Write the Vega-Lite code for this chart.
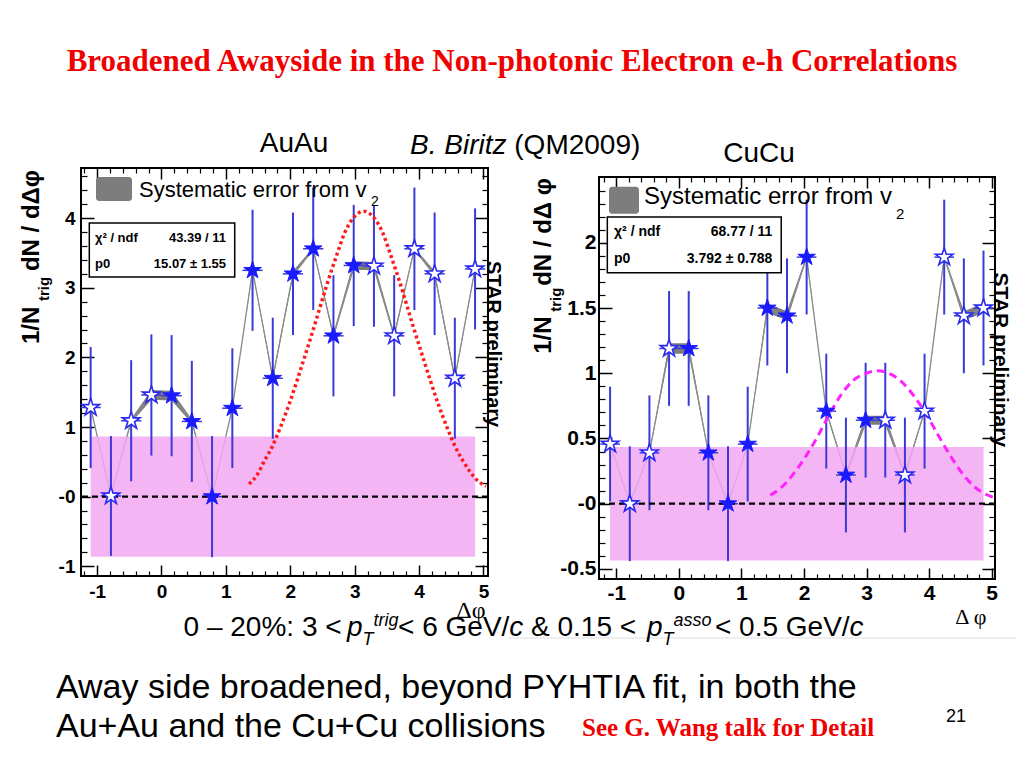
{
"$schema": "https://vega.github.io/schema/vega-lite/v6.json",
"background": "white",
"padding": {"left": 18, "top": 45, "right": 0, "bottom": 0},
"title": {"text": "Broadened Awayside in the Non-photonic Electron e-h Correlations", "font": "Liberation Serif", "fontSize": 31, "fontWeight": "bold", "color": "#f00000", "anchor": "middle", "offset": 54, "dx": -8, "dy": 3},
"config": {
  "font": "Liberation Sans",
  "view": {"stroke": "black", "strokeWidth": 2},
  "axis": {"grid": false, "domain": false, "labelColor": "black", "tickColor": "black", "labelFont": "Liberation Sans", "labelFontWeight": "bold", "titleFont": "Liberation Serif", "titleFontWeight": "normal", "titleColor": "black", "labelFlush": false, "labelOverlap": false, "labelBound": false},
  "text": {"font": "Liberation Sans", "color": "black"}
},
"datasets": {
  "one": [{"k": 1}],
  "au": [
    {"dphi": -1.100, "val": 1.28, "err": 0.87, "sys": 0.01, "xerr": 0.157, "kind": "reflected"},
    {"dphi": -0.785, "val": 0.01, "err": 0.86, "sys": 0.01, "xerr": 0.157, "kind": "reflected"},
    {"dphi": -0.471, "val": 1.09, "err": 0.87, "sys": 0.03, "xerr": 0.157, "kind": "reflected"},
    {"dphi": -0.157, "val": 1.46, "err": 0.87, "sys": 0.07, "xerr": 0.157, "kind": "reflected"},
    {"dphi": 0.157, "val": 1.45, "err": 0.87, "sys": 0.07, "xerr": 0.157, "kind": "measured"},
    {"dphi": 0.471, "val": 1.08, "err": 0.87, "sys": 0.03, "xerr": 0.157, "kind": "measured"},
    {"dphi": 0.785, "val": 0.00, "err": 0.87, "sys": 0.01, "xerr": 0.157, "kind": "measured"},
    {"dphi": 1.100, "val": 1.27, "err": 0.86, "sys": 0.01, "xerr": 0.157, "kind": "measured"},
    {"dphi": 1.414, "val": 3.25, "err": 0.87, "sys": 0.02, "xerr": 0.157, "kind": "measured"},
    {"dphi": 1.728, "val": 1.70, "err": 0.87, "sys": 0.04, "xerr": 0.157, "kind": "measured"},
    {"dphi": 2.042, "val": 3.20, "err": 0.88, "sys": 0.04, "xerr": 0.157, "kind": "measured"},
    {"dphi": 2.356, "val": 3.56, "err": 0.88, "sys": 0.02, "xerr": 0.157, "kind": "measured"},
    {"dphi": 2.670, "val": 2.31, "err": 0.87, "sys": 0.04, "xerr": 0.157, "kind": "measured"},
    {"dphi": 2.985, "val": 3.32, "err": 0.87, "sys": 0.06, "xerr": 0.157, "kind": "measured"},
    {"dphi": 3.299, "val": 3.31, "err": 0.87, "sys": 0.06, "xerr": 0.157, "kind": "reflected"},
    {"dphi": 3.613, "val": 2.31, "err": 0.87, "sys": 0.04, "xerr": 0.157, "kind": "reflected"},
    {"dphi": 3.927, "val": 3.56, "err": 0.88, "sys": 0.02, "xerr": 0.157, "kind": "reflected"},
    {"dphi": 4.241, "val": 3.20, "err": 0.88, "sys": 0.04, "xerr": 0.157, "kind": "reflected"},
    {"dphi": 4.555, "val": 1.70, "err": 0.87, "sys": 0.04, "xerr": 0.157, "kind": "reflected"},
    {"dphi": 4.869, "val": 3.27, "err": 0.87, "sys": 0.02, "xerr": 0.157, "kind": "reflected"}
  ],
  "cu": [
    {"dphi": -1.100, "val": 0.457, "err": 0.44, "sys": 0.005, "xerr": 0.157, "kind": "reflected"},
    {"dphi": -0.785, "val": 0.00, "err": 0.44, "sys": 0.005, "xerr": 0.157, "kind": "reflected"},
    {"dphi": -0.471, "val": 0.39, "err": 0.44, "sys": 0.01, "xerr": 0.157, "kind": "reflected"},
    {"dphi": -0.157, "val": 1.19, "err": 0.44, "sys": 0.04, "xerr": 0.157, "kind": "reflected"},
    {"dphi": 0.157, "val": 1.19, "err": 0.44, "sys": 0.04, "xerr": 0.157, "kind": "measured"},
    {"dphi": 0.471, "val": 0.39, "err": 0.44, "sys": 0.01, "xerr": 0.157, "kind": "measured"},
    {"dphi": 0.785, "val": 0.00, "err": 0.44, "sys": 0.005, "xerr": 0.157, "kind": "measured"},
    {"dphi": 1.100, "val": 0.457, "err": 0.44, "sys": 0.005, "xerr": 0.157, "kind": "measured"},
    {"dphi": 1.414, "val": 1.50, "err": 0.44, "sys": 0.035, "xerr": 0.157, "kind": "measured"},
    {"dphi": 1.728, "val": 1.44, "err": 0.44, "sys": 0.035, "xerr": 0.157, "kind": "measured"},
    {"dphi": 2.042, "val": 1.89, "err": 0.44, "sys": 0.015, "xerr": 0.157, "kind": "measured"},
    {"dphi": 2.356, "val": 0.71, "err": 0.44, "sys": 0.01, "xerr": 0.157, "kind": "measured"},
    {"dphi": 2.670, "val": 0.22, "err": 0.44, "sys": 0.02, "xerr": 0.157, "kind": "measured"},
    {"dphi": 2.985, "val": 0.64, "err": 0.44, "sys": 0.035, "xerr": 0.157, "kind": "measured"},
    {"dphi": 3.299, "val": 0.64, "err": 0.44, "sys": 0.035, "xerr": 0.157, "kind": "reflected"},
    {"dphi": 3.613, "val": 0.22, "err": 0.44, "sys": 0.02, "xerr": 0.157, "kind": "reflected"},
    {"dphi": 3.927, "val": 0.71, "err": 0.44, "sys": 0.01, "xerr": 0.157, "kind": "reflected"},
    {"dphi": 4.241, "val": 1.89, "err": 0.44, "sys": 0.015, "xerr": 0.157, "kind": "reflected"},
    {"dphi": 4.555, "val": 1.44, "err": 0.44, "sys": 0.035, "xerr": 0.157, "kind": "reflected"},
    {"dphi": 4.869, "val": 1.50, "err": 0.44, "sys": 0.035, "xerr": 0.157, "kind": "reflected"}
  ],
  "auFit": [
    {"dphi": 1.36, "fit": 0.18}, {"dphi": 1.49, "fit": 0.32}, {"dphi": 1.59, "fit": 0.5}, {"dphi": 1.72, "fit": 0.72},
    {"dphi": 1.84, "fit": 0.98}, {"dphi": 1.99, "fit": 1.35}, {"dphi": 2.21, "fit": 1.97}, {"dphi": 2.39, "fit": 2.5},
    {"dphi": 2.56, "fit": 3.02}, {"dphi": 2.74, "fit": 3.52}, {"dphi": 2.84, "fit": 3.78}, {"dphi": 2.96, "fit": 3.98},
    {"dphi": 3.14, "fit": 4.1}, {"dphi": 3.32, "fit": 3.98}, {"dphi": 3.44, "fit": 3.78}, {"dphi": 3.54, "fit": 3.52},
    {"dphi": 3.72, "fit": 3.02}, {"dphi": 3.89, "fit": 2.5}, {"dphi": 4.07, "fit": 1.97}, {"dphi": 4.29, "fit": 1.35},
    {"dphi": 4.44, "fit": 0.98}, {"dphi": 4.56, "fit": 0.72}, {"dphi": 4.69, "fit": 0.5}, {"dphi": 4.79, "fit": 0.36},
    {"dphi": 4.92, "fit": 0.22}, {"dphi": 5.04, "fit": 0.15}
  ],
  "cuFit": [
    {"dphi": 1.46, "fit": 0.065}, {"dphi": 1.65, "fit": 0.13}, {"dphi": 1.85, "fit": 0.24}, {"dphi": 2.05, "fit": 0.38},
    {"dphi": 2.2, "fit": 0.5}, {"dphi": 2.4, "fit": 0.68}, {"dphi": 2.6, "fit": 0.84}, {"dphi": 2.8, "fit": 0.95},
    {"dphi": 3.0, "fit": 1.0}, {"dphi": 3.17, "fit": 1.02}, {"dphi": 3.35, "fit": 1.0}, {"dphi": 3.55, "fit": 0.94},
    {"dphi": 3.75, "fit": 0.83}, {"dphi": 3.95, "fit": 0.69}, {"dphi": 4.15, "fit": 0.52}, {"dphi": 4.35, "fit": 0.36},
    {"dphi": 4.55, "fit": 0.22}, {"dphi": 4.75, "fit": 0.12}, {"dphi": 5.05, "fit": 0.045}
  ],
  "auBand": [{"x1": -1.1, "x2": 4.87, "lo": -0.865, "hi": 0.865}],
  "cuBand": [{"x1": -1.1, "x2": 4.87, "lo": -0.435, "hi": 0.435}]
},
"vconcat": [
 {
  "hconcat": [
   {
    "width": 407, "height": 408,
    "resolve": {"axis": {"x": "independent", "y": "independent"}},
    "layer": [
     {"data": {"name": "au"}, "mark": {"type": "errorband", "band": {"color": "#7d7d7d", "opacity": 1}, "borders": false},
      "encoding": {"x": {"field": "dphi", "type": "quantitative", "scale": {"domain": [-1.25, 5.07], "nice": false, "zero": false}, "axis": null},
                   "y": {"field": "val", "type": "quantitative", "scale": {"domain": [-1.14, 4.72], "nice": false, "zero": false}, "axis": null},
                   "yError": {"field": "sys"}}},
     {"data": {"name": "au"}, "mark": {"type": "line", "color": "#8c8c8c", "strokeWidth": 1.3},
      "encoding": {"x": {"field": "dphi", "type": "quantitative", "scale": {"domain": [-1.25, 5.07], "nice": false, "zero": false},
                         "axis": {"orient": "bottom", "ticks": false, "values": [-1, 0, 1, 2, 3, 4, 5], "labelPadding": 6, "labelFontSize": 19, "labelExpr": "replace(datum.label, '\u2212', '-')", "title": "Δφ", "titleX": 404, "titleY": 34, "titleAlign": "right", "titleBaseline": "middle", "titleFontSize": 24, "titleAngle": 0}},
                   "y": {"field": "val", "type": "quantitative", "scale": {"domain": [-1.14, 4.72], "nice": false, "zero": false},
                         "axis": {"orient": "left", "ticks": false, "values": [-1, 0, 1, 2, 3, 4], "labelPadding": 6, "labelFontSize": 19, "format": "~g", "labelExpr": "datum.value == 0 ? '-0' : replace(datum.label, '\u2212', '-')", "title": null}}}},
     {"data": {"name": "auBand"}, "mark": {"type": "rect", "color": "#f2a8f2", "opacity": 0.85},
      "encoding": {"x": {"field": "x1", "type": "quantitative", "scale": {"domain": [-1.25, 5.07], "nice": false, "zero": false},
                         "axis": {"orient": "bottom", "labels": false, "values": [-1, 0, 1, 2, 3, 4, 5], "tickSize": -11, "tickWidth": 1.5, "title": null}},
                   "x2": {"field": "x2"},
                   "y": {"field": "lo", "type": "quantitative", "scale": {"domain": [-1.14, 4.72], "nice": false, "zero": false},
                         "axis": {"orient": "left", "labels": false, "values": [-1, 0, 1, 2, 3, 4], "tickSize": -13, "tickWidth": 1.5, "title": null}},
                   "y2": {"field": "hi"}}},
     {"data": {"name": "au"}, "mark": {"type": "errorbar", "color": "#3a3ad8", "thickness": 2},
      "encoding": {"x": {"field": "dphi", "type": "quantitative", "scale": {"domain": [-1.25, 5.07], "nice": false, "zero": false}, "axis": null},
                   "y": {"field": "val", "type": "quantitative", "scale": {"domain": [-1.14, 4.72], "nice": false, "zero": false}, "axis": null},
                   "yError": {"field": "err"}}},
     {"data": {"name": "au"}, "mark": {"type": "errorbar", "color": "#3a3ad8", "thickness": 1.5},
      "encoding": {"x": {"field": "dphi", "type": "quantitative", "scale": {"domain": [-1.25, 5.07], "nice": false, "zero": false}, "axis": null},
                   "xError": {"field": "xerr"},
                   "y": {"field": "val", "type": "quantitative", "scale": {"domain": [-1.14, 4.72], "nice": false, "zero": false}, "axis": null}}},
     {"data": {"name": "one"}, "mark": {"type": "rule", "color": "black", "strokeWidth": 2.2, "strokeDash": [6, 4]},
      "encoding": {"y": {"datum": 0, "type": "quantitative", "scale": {"domain": [-1.14, 4.72], "nice": false, "zero": false}, "axis": null}}},
     {"data": {"name": "auFit"}, "mark": {"type": "line", "color": "#ff1a1a", "strokeWidth": 3.5, "strokeDash": [3, 3], "interpolate": "monotone"},
      "encoding": {"x": {"field": "dphi", "type": "quantitative", "scale": {"domain": [-1.25, 5.07], "nice": false, "zero": false},
                         "axis": {"orient": "bottom", "labels": false, "values": [-1.2, -0.8, -0.6, -0.4, -0.2, 0.2, 0.4, 0.6, 0.8, 1.2, 1.4, 1.6, 1.8, 2.2, 2.4, 2.6, 2.8, 3.2, 3.4, 3.6, 3.8, 4.2, 4.4, 4.6, 4.8], "tickSize": -5, "tickWidth": 1.2, "title": null}},
                   "y": {"field": "fit", "type": "quantitative", "scale": {"domain": [-1.14, 4.72], "nice": false, "zero": false},
                         "axis": {"orient": "left", "labels": false, "values": [-0.8, -0.6, -0.4, -0.2, 0.2, 0.4, 0.6, 0.8, 1.2, 1.4, 1.6, 1.8, 2.2, 2.4, 2.6, 2.8, 3.2, 3.4, 3.6, 3.8, 4.2, 4.4, 4.6], "tickSize": -6, "tickWidth": 1.2, "title": null}}}},
     {"data": {"name": "au"}, "transform": [{"filter": "datum.kind == 'measured'"}],
      "mark": {"type": "point", "shape": "M0,-1L0.2245,-0.309L0.951,-0.309L0.3633,0.118L0.5878,0.809L0,0.382L-0.5878,0.809L-0.3633,0.118L-0.951,-0.309L-0.2245,-0.309Z", "filled": true, "fill": "#1a1aff", "stroke": "#1a1aff", "strokeWidth": 1, "size": 340, "opacity": 1},
      "encoding": {"x": {"field": "dphi", "type": "quantitative", "scale": {"domain": [-1.25, 5.07], "nice": false, "zero": false},
                         "axis": {"orient": "top", "labels": false, "values": [-1, 0, 1, 2, 3, 4, 5], "tickSize": -11, "tickWidth": 1.5, "title": null}},
                   "y": {"field": "val", "type": "quantitative", "scale": {"domain": [-1.14, 4.72], "nice": false, "zero": false},
                         "axis": {"orient": "right", "labels": false, "values": [-1, 0, 1, 2, 3, 4], "tickSize": -13, "tickWidth": 1.5, "title": null}}}},
     {"data": {"name": "au"}, "transform": [{"filter": "datum.kind == 'reflected'"}],
      "mark": {"type": "point", "shape": "M0,-1L0.2245,-0.309L0.951,-0.309L0.3633,0.118L0.5878,0.809L0,0.382L-0.5878,0.809L-0.3633,0.118L-0.951,-0.309L-0.2245,-0.309Z", "filled": true, "fill": "white", "stroke": "#2a2af0", "strokeWidth": 1.6, "size": 340, "opacity": 1},
      "encoding": {"x": {"field": "dphi", "type": "quantitative", "scale": {"domain": [-1.25, 5.07], "nice": false, "zero": false},
                         "axis": {"orient": "top", "labels": false, "values": [-1.2, -0.8, -0.6, -0.4, -0.2, 0.2, 0.4, 0.6, 0.8, 1.2, 1.4, 1.6, 1.8, 2.2, 2.4, 2.6, 2.8, 3.2, 3.4, 3.6, 3.8, 4.2, 4.4, 4.6, 4.8], "tickSize": -5, "tickWidth": 1.2, "title": null}},
                   "y": {"field": "val", "type": "quantitative", "scale": {"domain": [-1.14, 4.72], "nice": false, "zero": false},
                         "axis": {"orient": "right", "labels": false, "values": [-0.8, -0.6, -0.4, -0.2, 0.2, 0.4, 0.6, 0.8, 1.2, 1.4, 1.6, 1.8, 2.2, 2.4, 2.6, 2.8, 3.2, 3.4, 3.6, 3.8, 4.2, 4.4, 4.6], "tickSize": -6, "tickWidth": 1.2, "title": null}}}},
     {"data": {"name": "one"}, "mark": {"type": "rect", "color": "#7d7d7d", "cornerRadius": 3},
      "encoding": {"x": {"datum": -1.017, "type": "quantitative", "scale": {"domain": [-1.25, 5.07], "nice": false, "zero": false}, "axis": null}, "x2": {"datum": -0.458},
                   "y": {"datum": 4.246, "type": "quantitative", "scale": {"domain": [-1.14, 4.72], "nice": false, "zero": false}, "axis": null}, "y2": {"datum": 4.591}}},
     {"data": {"name": "one"}, "mark": {"type": "text", "text": "Systematic error from v", "fontSize": 22, "align": "left", "baseline": "alphabetic"},
      "encoding": {"x": {"datum": -0.349, "type": "quantitative", "scale": {"domain": [-1.25, 5.07], "nice": false, "zero": false}, "axis": null},
                   "y": {"datum": 4.303, "type": "quantitative", "scale": {"domain": [-1.14, 4.72], "nice": false, "zero": false}, "axis": null}}},
     {"data": {"name": "one"}, "mark": {"type": "text", "text": "2", "fontSize": 14, "align": "left", "baseline": "alphabetic"},
      "encoding": {"x": {"datum": 3.253, "type": "quantitative", "scale": {"domain": [-1.25, 5.07], "nice": false, "zero": false}, "axis": null},
                   "y": {"datum": 4.174, "type": "quantitative", "scale": {"domain": [-1.14, 4.72], "nice": false, "zero": false}, "axis": null}}},
     {"data": {"name": "one"}, "mark": {"type": "rect", "fill": "white", "stroke": "black", "strokeWidth": 1.5},
      "encoding": {"x": {"datum": -1.121, "type": "quantitative", "scale": {"domain": [-1.25, 5.07], "nice": false, "zero": false}, "axis": null}, "x2": {"datum": 1.137},
                   "y": {"datum": 3.154, "type": "quantitative", "scale": {"domain": [-1.14, 4.72], "nice": false, "zero": false}, "axis": null}, "y2": {"datum": 3.93}}},
     {"data": {"name": "one"}, "mark": {"type": "text", "text": "χ² / ndf", "fontSize": 13, "fontWeight": "bold", "align": "left", "baseline": "middle"},
      "encoding": {"x": {"datum": -1.033, "type": "quantitative", "scale": {"domain": [-1.25, 5.07], "nice": false, "zero": false}, "axis": null},
                   "y": {"datum": 3.714, "type": "quantitative", "scale": {"domain": [-1.14, 4.72], "nice": false, "zero": false}, "axis": null}}},
     {"data": {"name": "one"}, "mark": {"type": "text", "text": "43.39 / 11", "fontSize": 13, "fontWeight": "bold", "align": "right", "baseline": "middle"},
      "encoding": {"x": {"datum": 1.002, "type": "quantitative", "scale": {"domain": [-1.25, 5.07], "nice": false, "zero": false}, "axis": null},
                   "y": {"datum": 3.714, "type": "quantitative", "scale": {"domain": [-1.14, 4.72], "nice": false, "zero": false}, "axis": null}}},
     {"data": {"name": "one"}, "mark": {"type": "text", "text": "p0", "fontSize": 13, "fontWeight": "bold", "align": "left", "baseline": "middle"},
      "encoding": {"x": {"datum": -1.033, "type": "quantitative", "scale": {"domain": [-1.25, 5.07], "nice": false, "zero": false}, "axis": null},
                   "y": {"datum": 3.341, "type": "quantitative", "scale": {"domain": [-1.14, 4.72], "nice": false, "zero": false}, "axis": null}}},
     {"data": {"name": "one"}, "mark": {"type": "text", "text": "15.07 ± 1.55", "fontSize": 13, "fontWeight": "bold", "align": "right", "baseline": "middle"},
      "encoding": {"x": {"datum": 1.002, "type": "quantitative", "scale": {"domain": [-1.25, 5.07], "nice": false, "zero": false}, "axis": null},
                   "y": {"datum": 3.341, "type": "quantitative", "scale": {"domain": [-1.14, 4.72], "nice": false, "zero": false}, "axis": null}}},
     {"data": {"name": "one"}, "mark": {"type": "text", "text": "STAR preliminary", "fontSize": 20, "fontWeight": "bold", "angle": 90, "align": "center", "baseline": "middle"},
      "encoding": {"x": {"datum": 5.147, "type": "quantitative", "scale": {"domain": [-1.25, 5.07], "nice": false, "zero": false}, "axis": null},
                   "y": {"datum": 2.191, "type": "quantitative", "scale": {"domain": [-1.14, 4.72], "nice": false, "zero": false}, "axis": null}}},
     {"data": {"name": "one"}, "mark": {"type": "text", "text": "1/N", "fontSize": 24, "fontWeight": "bold", "angle": 270, "align": "left", "baseline": "middle"},
      "encoding": {"x": {"datum": -2.011, "type": "quantitative", "scale": {"domain": [-1.25, 5.07], "nice": false, "zero": false}, "axis": null},
                   "y": {"datum": 2.191, "type": "quantitative", "scale": {"domain": [-1.14, 4.72], "nice": false, "zero": false}, "axis": null}}},
     {"data": {"name": "one"}, "mark": {"type": "text", "text": "trig", "fontSize": 15, "fontWeight": "bold", "angle": 270, "align": "left", "baseline": "middle"},
      "encoding": {"x": {"datum": -1.817, "type": "quantitative", "scale": {"domain": [-1.25, 5.07], "nice": false, "zero": false}, "axis": null},
                   "y": {"datum": 2.809, "type": "quantitative", "scale": {"domain": [-1.14, 4.72], "nice": false, "zero": false}, "axis": null}}},
     {"data": {"name": "one"}, "mark": {"type": "text", "text": "dN / dΔφ", "fontSize": 24, "fontWeight": "bold", "angle": 270, "align": "left", "baseline": "middle"},
      "encoding": {"x": {"datum": -2.011, "type": "quantitative", "scale": {"domain": [-1.25, 5.07], "nice": false, "zero": false}, "axis": null},
                   "y": {"datum": 3.24, "type": "quantitative", "scale": {"domain": [-1.14, 4.72], "nice": false, "zero": false}, "axis": null}}},
     {"data": {"name": "one"}, "mark": {"type": "text", "text": "AuAu", "fontSize": 28, "align": "center", "baseline": "middle"},
      "encoding": {"x": {"datum": 2.057, "type": "quantitative", "scale": {"domain": [-1.25, 5.07], "nice": false, "zero": false}, "axis": null},
                   "y": {"datum": 5.065, "type": "quantitative", "scale": {"domain": [-1.14, 4.72], "nice": false, "zero": false}, "axis": null}}},
     {"data": {"name": "one"}, "mark": {"type": "text", "text": "0 – 20%: 3 <", "fontSize": 28, "fontWeight": "normal", "align": "left", "baseline": "alphabetic"},
      "encoding": {"x": {"datum": 0.343, "type": "quantitative", "scale": {"domain": [-1.25, 5.07], "nice": false, "zero": false}, "axis": null},
                   "y": {"datum": -2.002, "type": "quantitative", "scale": {"domain": [-1.14, 4.72], "nice": false, "zero": false}, "axis": null}}},
     {"data": {"name": "one"}, "mark": {"type": "text", "text": "p", "fontSize": 28, "fontStyle": "italic", "align": "left", "baseline": "alphabetic"},
      "encoding": {"x": {"datum": 2.88, "type": "quantitative", "scale": {"domain": [-1.25, 5.07], "nice": false, "zero": false}, "axis": null},
                   "y": {"datum": -2.002, "type": "quantitative", "scale": {"domain": [-1.14, 4.72], "nice": false, "zero": false}, "axis": null}}},
     {"data": {"name": "one"}, "mark": {"type": "text", "text": "T", "fontSize": 18, "fontStyle": "italic", "align": "left", "baseline": "alphabetic"},
      "encoding": {"x": {"datum": 3.121, "type": "quantitative", "scale": {"domain": [-1.25, 5.07], "nice": false, "zero": false}, "axis": null},
                   "y": {"datum": -2.131, "type": "quantitative", "scale": {"domain": [-1.14, 4.72], "nice": false, "zero": false}, "axis": null}}},
     {"data": {"name": "one"}, "mark": {"type": "text", "text": "trig", "fontSize": 18, "fontStyle": "italic", "align": "left", "baseline": "alphabetic"},
      "encoding": {"x": {"datum": 3.292, "type": "quantitative", "scale": {"domain": [-1.25, 5.07], "nice": false, "zero": false}, "axis": null},
                   "y": {"datum": -1.859, "type": "quantitative", "scale": {"domain": [-1.14, 4.72], "nice": false, "zero": false}, "axis": null}}}
    ]
   },
   {
    "width": 396, "height": 411,
    "view": {"stroke": null},
    "resolve": {"axis": {"x": "independent", "y": "independent"}},
    "layer": [
     {"data": {"name": "cu"}, "mark": {"type": "errorband", "band": {"color": "#7d7d7d", "opacity": 1}, "borders": false},
      "encoding": {"x": {"field": "dphi", "type": "quantitative", "scale": {"domain": [-1.277, 5.053], "nice": false, "zero": false}, "axis": null},
                   "y": {"field": "val", "type": "quantitative", "scale": {"domain": [-0.577, 2.573], "nice": false, "zero": false}, "axis": null},
                   "yError": {"field": "sys"}}},
     {"data": {"name": "cu"}, "mark": {"type": "line", "color": "#8c8c8c", "strokeWidth": 1.3},
      "encoding": {"x": {"field": "dphi", "type": "quantitative", "scale": {"domain": [-1.277, 5.053], "nice": false, "zero": false},
                         "axis": {"orient": "bottom", "ticks": false, "values": [-1, 0, 1, 2, 3, 4, 5], "labelPadding": 3, "labelFontSize": 21, "labelExpr": "replace(datum.label, '\u2212', '-')", "title": "Δ φ", "titleX": 387, "titleY": 37, "titleAlign": "right", "titleBaseline": "middle", "titleFontSize": 22, "titleAngle": 0}},
                   "y": {"field": "val", "type": "quantitative", "scale": {"domain": [-0.577, 2.573], "nice": false, "zero": false},
                         "axis": {"orient": "left", "ticks": false, "values": [-0.5, 0, 0.5, 1, 1.5, 2], "labelPadding": 3, "labelFontSize": 21, "format": "~g", "labelExpr": "datum.value == 0 ? '-0' : replace(datum.label, '\u2212', '-')", "title": null}}}},
     {"data": {"name": "cuBand"}, "mark": {"type": "rect", "color": "#f2a8f2", "opacity": 0.85},
      "encoding": {"x": {"field": "x1", "type": "quantitative", "scale": {"domain": [-1.277, 5.053], "nice": false, "zero": false},
                         "axis": {"orient": "bottom", "labels": false, "values": [-1, 0, 1, 2, 3, 4, 5], "tickSize": -11, "tickWidth": 1.5, "title": null}},
                   "x2": {"field": "x2"},
                   "y": {"field": "lo", "type": "quantitative", "scale": {"domain": [-0.577, 2.573], "nice": false, "zero": false},
                         "axis": {"orient": "left", "labels": false, "values": [-0.5, 0, 0.5, 1, 1.5, 2], "tickSize": -13, "tickWidth": 1.5, "title": null}},
                   "y2": {"field": "hi"}}},
     {"data": {"name": "cu"}, "mark": {"type": "errorbar", "color": "#3a3ad8", "thickness": 2},
      "encoding": {"x": {"field": "dphi", "type": "quantitative", "scale": {"domain": [-1.277, 5.053], "nice": false, "zero": false}, "axis": null},
                   "y": {"field": "val", "type": "quantitative", "scale": {"domain": [-0.577, 2.573], "nice": false, "zero": false}, "axis": null},
                   "yError": {"field": "err"}}},
     {"data": {"name": "cu"}, "mark": {"type": "errorbar", "color": "#3a3ad8", "thickness": 1.5},
      "encoding": {"x": {"field": "dphi", "type": "quantitative", "scale": {"domain": [-1.277, 5.053], "nice": false, "zero": false}, "axis": null},
                   "xError": {"field": "xerr"},
                   "y": {"field": "val", "type": "quantitative", "scale": {"domain": [-0.577, 2.573], "nice": false, "zero": false}, "axis": null}}},
     {"data": {"name": "one"}, "mark": {"type": "rule", "color": "black", "strokeWidth": 2.2, "strokeDash": [6, 4]},
      "encoding": {"y": {"datum": 0, "type": "quantitative", "scale": {"domain": [-0.577, 2.573], "nice": false, "zero": false}, "axis": null}}},
     {"data": {"name": "cuFit"}, "mark": {"type": "line", "color": "#ff22ff", "strokeWidth": 3, "strokeDash": [8, 5], "interpolate": "monotone"},
      "encoding": {"x": {"field": "dphi", "type": "quantitative", "scale": {"domain": [-1.277, 5.053], "nice": false, "zero": false},
                         "axis": {"orient": "bottom", "labels": false, "values": [-1.2, -0.8, -0.6, -0.4, -0.2, 0.2, 0.4, 0.6, 0.8, 1.2, 1.4, 1.6, 1.8, 2.2, 2.4, 2.6, 2.8, 3.2, 3.4, 3.6, 3.8, 4.2, 4.4, 4.6, 4.8], "tickSize": -5, "tickWidth": 1.2, "title": null}},
                   "y": {"field": "fit", "type": "quantitative", "scale": {"domain": [-0.577, 2.573], "nice": false, "zero": false},
                         "axis": {"orient": "left", "labels": false, "values": [-0.4, -0.3, -0.2, -0.1, 0.1, 0.2, 0.3, 0.4, 0.6, 0.7, 0.8, 0.9, 1.1, 1.2, 1.3, 1.4, 1.6, 1.7, 1.8, 1.9, 2.1, 2.2, 2.3, 2.4], "tickSize": -6, "tickWidth": 1.2, "title": null}}}},
     {"data": {"name": "cu"}, "transform": [{"filter": "datum.kind == 'measured'"}],
      "mark": {"type": "point", "shape": "M0,-1L0.2245,-0.309L0.951,-0.309L0.3633,0.118L0.5878,0.809L0,0.382L-0.5878,0.809L-0.3633,0.118L-0.951,-0.309L-0.2245,-0.309Z", "filled": true, "fill": "#1a1aff", "stroke": "#1a1aff", "strokeWidth": 1, "size": 340, "opacity": 1},
      "encoding": {"x": {"field": "dphi", "type": "quantitative", "scale": {"domain": [-1.277, 5.053], "nice": false, "zero": false},
                         "axis": {"orient": "top", "offset": -9, "labels": false, "values": [-1, 0, 1, 2, 3, 4, 5], "tickSize": -11, "tickWidth": 1.5, "title": null}},
                   "y": {"field": "val", "type": "quantitative", "scale": {"domain": [-0.577, 2.573], "nice": false, "zero": false},
                         "axis": {"orient": "right", "labels": false, "values": [-0.5, 0, 0.5, 1, 1.5, 2], "tickSize": -13, "tickWidth": 1.5, "title": null}}}},
     {"data": {"name": "cu"}, "transform": [{"filter": "datum.kind == 'reflected'"}],
      "mark": {"type": "point", "shape": "M0,-1L0.2245,-0.309L0.951,-0.309L0.3633,0.118L0.5878,0.809L0,0.382L-0.5878,0.809L-0.3633,0.118L-0.951,-0.309L-0.2245,-0.309Z", "filled": true, "fill": "white", "stroke": "#2a2af0", "strokeWidth": 1.6, "size": 340, "opacity": 1},
      "encoding": {"x": {"field": "dphi", "type": "quantitative", "scale": {"domain": [-1.277, 5.053], "nice": false, "zero": false},
                         "axis": {"orient": "top", "offset": -9, "labels": false, "values": [-1.2, -0.8, -0.6, -0.4, -0.2, 0.2, 0.4, 0.6, 0.8, 1.2, 1.4, 1.6, 1.8, 2.2, 2.4, 2.6, 2.8, 3.2, 3.4, 3.6, 3.8, 4.2, 4.4, 4.6, 4.8], "tickSize": -5, "tickWidth": 1.2, "title": null}},
                   "y": {"field": "val", "type": "quantitative", "scale": {"domain": [-0.577, 2.573], "nice": false, "zero": false},
                         "axis": {"orient": "right", "labels": false, "values": [-0.4, -0.3, -0.2, -0.1, 0.1, 0.2, 0.3, 0.4, 0.6, 0.7, 0.8, 0.9, 1.1, 1.2, 1.3, 1.4, 1.6, 1.7, 1.8, 1.9, 2.1, 2.2, 2.3, 2.4], "tickSize": -6, "tickWidth": 1.2, "title": null}}}},
     {"data": {"name": "one"}, "mark": {"type": "rect", "color": "#7d7d7d", "cornerRadius": 3},
      "encoding": {"x": {"datum": -1.117, "type": "quantitative", "scale": {"domain": [-1.277, 5.053], "nice": false, "zero": false}, "axis": null}, "x2": {"datum": -0.638},
                   "y": {"datum": 2.223, "type": "quantitative", "scale": {"domain": [-0.577, 2.573], "nice": false, "zero": false}, "axis": null}, "y2": {"datum": 2.43}}},
     {"data": {"name": "one"}, "mark": {"type": "text", "text": "Systematic error from v", "fontSize": 24, "align": "left", "baseline": "alphabetic"},
      "encoding": {"x": {"datum": -0.558, "type": "quantitative", "scale": {"domain": [-1.277, 5.053], "nice": false, "zero": false}, "axis": null},
                   "y": {"datum": 2.299, "type": "quantitative", "scale": {"domain": [-0.577, 2.573], "nice": false, "zero": false}, "axis": null}}},
     {"data": {"name": "one"}, "mark": {"type": "text", "text": "2", "fontSize": 15, "align": "left", "baseline": "alphabetic"},
      "encoding": {"x": {"datum": 3.47, "type": "quantitative", "scale": {"domain": [-1.277, 5.053], "nice": false, "zero": false}, "axis": null},
                   "y": {"datum": 2.184, "type": "quantitative", "scale": {"domain": [-0.577, 2.573], "nice": false, "zero": false}, "axis": null}}},
     {"data": {"name": "one"}, "mark": {"type": "rect", "fill": "white", "stroke": "black", "strokeWidth": 1.5},
      "encoding": {"x": {"datum": -1.144, "type": "quantitative", "scale": {"domain": [-1.277, 5.053], "nice": false, "zero": false}, "axis": null}, "x2": {"datum": 1.636},
                   "y": {"datum": 1.77, "type": "quantitative", "scale": {"domain": [-0.577, 2.573], "nice": false, "zero": false}, "axis": null}, "y2": {"datum": 2.197}}},
     {"data": {"name": "one"}, "mark": {"type": "text", "text": "χ² / ndf", "fontSize": 14, "fontWeight": "bold", "align": "left", "baseline": "middle"},
      "encoding": {"x": {"datum": -1.037, "type": "quantitative", "scale": {"domain": [-1.277, 5.053], "nice": false, "zero": false}, "axis": null},
                   "y": {"datum": 2.082, "type": "quantitative", "scale": {"domain": [-0.577, 2.573], "nice": false, "zero": false}, "axis": null}}},
     {"data": {"name": "one"}, "mark": {"type": "text", "text": "68.77 / 11", "fontSize": 14, "fontWeight": "bold", "align": "right", "baseline": "middle"},
      "encoding": {"x": {"datum": 1.493, "type": "quantitative", "scale": {"domain": [-1.277, 5.053], "nice": false, "zero": false}, "axis": null},
                   "y": {"datum": 2.082, "type": "quantitative", "scale": {"domain": [-0.577, 2.573], "nice": false, "zero": false}, "axis": null}}},
     {"data": {"name": "one"}, "mark": {"type": "text", "text": "p0", "fontSize": 14, "fontWeight": "bold", "align": "left", "baseline": "middle"},
      "encoding": {"x": {"datum": -1.037, "type": "quantitative", "scale": {"domain": [-1.277, 5.053], "nice": false, "zero": false}, "axis": null},
                   "y": {"datum": 1.872, "type": "quantitative", "scale": {"domain": [-0.577, 2.573], "nice": false, "zero": false}, "axis": null}}},
     {"data": {"name": "one"}, "mark": {"type": "text", "text": "3.792 ± 0.788", "fontSize": 14, "fontWeight": "bold", "align": "right", "baseline": "middle"},
      "encoding": {"x": {"datum": 1.493, "type": "quantitative", "scale": {"domain": [-1.277, 5.053], "nice": false, "zero": false}, "axis": null},
                   "y": {"datum": 1.872, "type": "quantitative", "scale": {"domain": [-0.577, 2.573], "nice": false, "zero": false}, "axis": null}}},
     {"data": {"name": "one"}, "mark": {"type": "text", "text": "STAR preliminary", "fontSize": 21, "fontWeight": "bold", "angle": 90, "align": "center", "baseline": "middle"},
      "encoding": {"x": {"datum": 5.132, "type": "quantitative", "scale": {"domain": [-1.277, 5.053], "nice": false, "zero": false}, "axis": null},
                   "y": {"datum": 1.103, "type": "quantitative", "scale": {"domain": [-0.577, 2.573], "nice": false, "zero": false}, "axis": null}}},
     {"data": {"name": "one"}, "mark": {"type": "text", "text": "1/N", "fontSize": 24, "fontWeight": "bold", "angle": 270, "align": "left", "baseline": "middle"},
      "encoding": {"x": {"datum": -2.156, "type": "quantitative", "scale": {"domain": [-1.277, 5.053], "nice": false, "zero": false}, "axis": null},
                   "y": {"datum": 1.149, "type": "quantitative", "scale": {"domain": [-0.577, 2.573], "nice": false, "zero": false}, "axis": null}}},
     {"data": {"name": "one"}, "mark": {"type": "text", "text": "trig", "fontSize": 15, "fontWeight": "bold", "angle": 270, "align": "left", "baseline": "middle"},
      "encoding": {"x": {"datum": -1.964, "type": "quantitative", "scale": {"domain": [-1.277, 5.053], "nice": false, "zero": false}, "axis": null},
                   "y": {"datum": 1.471, "type": "quantitative", "scale": {"domain": [-0.577, 2.573], "nice": false, "zero": false}, "axis": null}}},
     {"data": {"name": "one"}, "mark": {"type": "text", "text": "dN / dΔ φ", "fontSize": 24, "fontWeight": "bold", "angle": 270, "align": "left", "baseline": "middle"},
      "encoding": {"x": {"datum": -2.156, "type": "quantitative", "scale": {"domain": [-1.277, 5.053], "nice": false, "zero": false}, "axis": null},
                   "y": {"datum": 1.67, "type": "quantitative", "scale": {"domain": [-0.577, 2.573], "nice": false, "zero": false}, "axis": null}}},
     {"data": {"name": "one"}, "mark": {"type": "text", "text": "CuCu", "fontSize": 28, "align": "center", "baseline": "middle"},
      "encoding": {"x": {"datum": 1.28, "type": "quantitative", "scale": {"domain": [-1.277, 5.053], "nice": false, "zero": false}, "axis": null},
                   "y": {"datum": 2.68, "type": "quantitative", "scale": {"domain": [-0.577, 2.573], "nice": false, "zero": false}, "axis": null}}},
     {"data": {"name": "one"}, "mark": {"type": "text", "text": "B. Biritz", "fontSize": 28, "fontStyle": "italic", "align": "left", "baseline": "middle"},
      "encoding": {"x": {"datum": -4.298, "type": "quantitative", "scale": {"domain": [-1.277, 5.053], "nice": false, "zero": false}, "axis": null},
                   "y": {"datum": 2.745, "type": "quantitative", "scale": {"domain": [-0.577, 2.573], "nice": false, "zero": false}, "axis": null}}},
     {"data": {"name": "one"}, "mark": {"type": "text", "text": "(QM2009)", "fontSize": 28, "align": "left", "baseline": "middle"},
      "encoding": {"x": {"datum": -2.631, "type": "quantitative", "scale": {"domain": [-1.277, 5.053], "nice": false, "zero": false}, "axis": null},
                   "y": {"datum": 2.745, "type": "quantitative", "scale": {"domain": [-0.577, 2.573], "nice": false, "zero": false}, "axis": null}}},
     {"data": {"name": "one"}, "mark": {"type": "rect", "filled": false, "stroke": "black", "strokeWidth": 2},
      "encoding": {"x": {"datum": -1.277, "type": "quantitative", "scale": {"domain": [-1.277, 5.053], "nice": false, "zero": false}, "axis": null}, "x2": {"datum": 5.053},
                   "y": {"datum": -0.577, "type": "quantitative", "scale": {"domain": [-0.577, 2.573], "nice": false, "zero": false}, "axis": null}, "y2": {"datum": 2.504}}},
     {"data": {"name": "one"}, "mark": {"type": "rule", "color": "#dddddd", "strokeWidth": 1},
      "encoding": {"x": {"datum": -2.715, "type": "quantitative", "scale": {"domain": [-1.277, 5.053], "nice": false, "zero": false}, "axis": null}, "x2": {"datum": 5.4},
                   "y": {"datum": -1.029, "type": "quantitative", "scale": {"domain": [-0.577, 2.573], "nice": false, "zero": false}, "axis": null}}},
     {"data": {"name": "one"}, "mark": {"type": "text", "text": "< 6 GeV/", "fontSize": 28, "align": "left", "baseline": "alphabetic"},
      "encoding": {"x": {"datum": -4.489, "type": "quantitative", "scale": {"domain": [-1.277, 5.053], "nice": false, "zero": false}, "axis": null},
                   "y": {"datum": -1.014, "type": "quantitative", "scale": {"domain": [-0.577, 2.573], "nice": false, "zero": false}, "axis": null}}},
     {"data": {"name": "one"}, "mark": {"type": "text", "text": "c", "fontSize": 28, "fontStyle": "italic", "align": "left", "baseline": "alphabetic"},
      "encoding": {"x": {"datum": -2.711, "type": "quantitative", "scale": {"domain": [-1.277, 5.053], "nice": false, "zero": false}, "axis": null},
                   "y": {"datum": -1.014, "type": "quantitative", "scale": {"domain": [-0.577, 2.573], "nice": false, "zero": false}, "axis": null}}},
     {"data": {"name": "one"}, "mark": {"type": "text", "text": "& 0.15 <", "fontSize": 28, "align": "left", "baseline": "alphabetic"},
      "encoding": {"x": {"datum": -2.363, "type": "quantitative", "scale": {"domain": [-1.277, 5.053], "nice": false, "zero": false}, "axis": null},
                   "y": {"datum": -1.014, "type": "quantitative", "scale": {"domain": [-0.577, 2.573], "nice": false, "zero": false}, "axis": null}}},
     {"data": {"name": "one"}, "mark": {"type": "text", "text": "p", "fontSize": 28, "fontStyle": "italic", "align": "left", "baseline": "alphabetic"},
      "encoding": {"x": {"datum": -0.51, "type": "quantitative", "scale": {"domain": [-1.277, 5.053], "nice": false, "zero": false}, "axis": null},
                   "y": {"datum": -1.014, "type": "quantitative", "scale": {"domain": [-0.577, 2.573], "nice": false, "zero": false}, "axis": null}}},
     {"data": {"name": "one"}, "mark": {"type": "text", "text": "T", "fontSize": 18, "fontStyle": "italic", "align": "left", "baseline": "alphabetic"},
      "encoding": {"x": {"datum": -0.261, "type": "quantitative", "scale": {"domain": [-1.277, 5.053], "nice": false, "zero": false}, "axis": null},
                   "y": {"datum": -1.083, "type": "quantitative", "scale": {"domain": [-0.577, 2.573], "nice": false, "zero": false}, "axis": null}}},
     {"data": {"name": "one"}, "mark": {"type": "text", "text": "asso", "fontSize": 18, "fontStyle": "italic", "align": "left", "baseline": "alphabetic"},
      "encoding": {"x": {"datum": -0.085, "type": "quantitative", "scale": {"domain": [-1.277, 5.053], "nice": false, "zero": false}, "axis": null},
                   "y": {"datum": -0.937, "type": "quantitative", "scale": {"domain": [-0.577, 2.573], "nice": false, "zero": false}, "axis": null}}},
     {"data": {"name": "one"}, "mark": {"type": "text", "text": "< 0.5 GeV/", "fontSize": 28, "align": "left", "baseline": "alphabetic"},
      "encoding": {"x": {"datum": 0.577, "type": "quantitative", "scale": {"domain": [-1.277, 5.053], "nice": false, "zero": false}, "axis": null},
                   "y": {"datum": -1.014, "type": "quantitative", "scale": {"domain": [-0.577, 2.573], "nice": false, "zero": false}, "axis": null}}},
     {"data": {"name": "one"}, "mark": {"type": "text", "text": "c", "fontSize": 28, "fontStyle": "italic", "align": "left", "baseline": "alphabetic"},
      "encoding": {"x": {"datum": 2.729, "type": "quantitative", "scale": {"domain": [-1.277, 5.053], "nice": false, "zero": false}, "axis": null},
                   "y": {"datum": -1.014, "type": "quantitative", "scale": {"domain": [-0.577, 2.573], "nice": false, "zero": false}, "axis": null}}}
    ]
   }
  ],
  "spacing": -106
 },
 {
  "width": 940, "height": 118,
  "view": {"stroke": null},
  "data": {"name": "one"},
  "layer": [
   {"mark": {"type": "text", "text": "Away side broadened, beyond PYHTIA fit, in both the", "fontSize": 34, "align": "left", "baseline": "alphabetic"},
    "encoding": {"x": {"datum": -2.5, "type": "quantitative", "scale": {"domain": [0, 94], "nice": false, "zero": false}, "axis": null},
                 "y": {"datum": 40.68, "type": "quantitative", "scale": {"domain": [100, 0], "nice": false, "zero": false}, "axis": null}}},
   {"mark": {"type": "text", "text": "Au+Au and the Cu+Cu collisions", "fontSize": 34, "align": "left", "baseline": "alphabetic"},
    "encoding": {"x": {"datum": -2.5, "type": "quantitative", "scale": {"domain": [0, 94], "nice": false, "zero": false}, "axis": null},
                 "y": {"datum": 73.73, "type": "quantitative", "scale": {"domain": [100, 0], "nice": false, "zero": false}, "axis": null}}},
   {"mark": {"type": "text", "text": "See G. Wang talk for Detail", "font": "Liberation Serif", "fontSize": 25, "fontWeight": "bold", "color": "#f00000", "align": "left", "baseline": "alphabetic"},
    "encoding": {"x": {"datum": 50.1, "type": "quantitative", "scale": {"domain": [0, 94], "nice": false, "zero": false}, "axis": null},
                 "y": {"datum": 72.88, "type": "quantitative", "scale": {"domain": [100, 0], "nice": false, "zero": false}, "axis": null}}},
   {"mark": {"type": "text", "text": "21", "fontSize": 18, "align": "left", "baseline": "alphabetic"},
    "encoding": {"x": {"datum": 86.5, "type": "quantitative", "scale": {"domain": [0, 94], "nice": false, "zero": false}, "axis": null},
                 "y": {"datum": 61.02, "type": "quantitative", "scale": {"domain": [100, 0], "nice": false, "zero": false}, "axis": null}}}
  ]
 }
],
"spacing": 0
}
